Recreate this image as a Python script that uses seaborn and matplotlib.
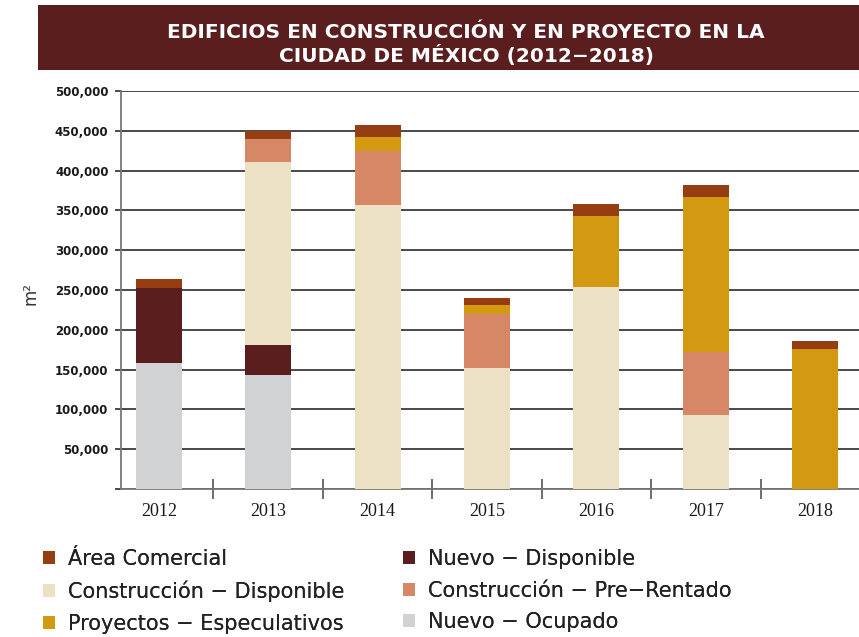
import matplotlib
matplotlib.use("Agg")
import matplotlib.pyplot as plt
import numpy as np
import pandas as pd
import seaborn as sns
from matplotlib.patches import Patch, Rectangle
from matplotlib.ticker import FuncFormatter, MultipleLocator

sns.set_theme(style="white")
plt.rcParams['font.family'] = ['DejaVu Sans']

# Data (m2)
years = ['2012', '2013', '2014', '2015', '2016', '2017', '2018']
nuevo_ocupado = [158000, 143000, 0, 0, 0, 0, 0]
nuevo_disponible = [94500, 38000, 0, 0, 0, 0, 0]
construccion_disponible = [0, 230000, 357000, 152000, 254000, 93000, 0]
construccion_prerentado = [0, 29000, 68000, 68000, 0, 79500, 0]
proyectos_especulativos = [0, 0, 17500, 11000, 89500, 195000, 176000]
area_comercial = [11000, 10000, 15000, 9000, 14500, 15000, 10000]

# stack order bottom -> top
layers = [
    ('Nuevo − Ocupado', nuevo_ocupado, '#d1d2d4'),
    ('Nuevo − Disponible', nuevo_disponible, '#5a1e1f'),
    ('Construcción − Disponible', construccion_disponible, '#ece1c4'),
    ('Construcción − Pre−Rentado', construccion_prerentado, '#d68866'),
    ('Proyectos − Especulativos', proyectos_especulativos, '#d39a11'),
    ('Área Comercial', area_comercial, '#963e12'),
]

df = pd.DataFrame({name: vals for name, vals, _ in layers}, index=years)
cum = df.cumsum(axis=1)

fig = plt.figure(figsize=(8.59, 6.37), dpi=100)
ax = fig.add_axes([0.1409, 0.2323, 0.8591, 0.6247])

# draw cumulative totals from the top layer down so each layer shows through
for name, _, color in reversed(layers):
    sns.barplot(x=cum.index, y=cum[name].values, color=color, width=0.42,
                saturation=1, linewidth=0, ax=ax, zorder=3)

ax.set_ylim(0, 500000)
ax.set_xlim(-0.345, 6.4)
ax.yaxis.set_major_locator(MultipleLocator(50000))
ax.yaxis.set_major_formatter(FuncFormatter(lambda v, p: '' if v == 0 else f'{int(v):,}'))
ax.grid(axis='y', color='#2a2a2a', linewidth=1.2, zorder=0)
ax.set_axisbelow(True)

for s in ['top', 'right']:
    ax.spines[s].set_visible(False)
ax.spines['left'].set_color('#777777')
ax.spines['bottom'].set_color('#777777')
ax.spines['left'].set_linewidth(1.3)
ax.spines['bottom'].set_linewidth(1.3)

ax.tick_params(axis='y', which='major', left=True, length=4, width=1.2, color='#2a2a2a',
               labelsize=8.5, pad=5, labelcolor='#1a1a1a')
for lbl in ax.get_yticklabels():
    lbl.set_fontweight('bold')

# year labels in a serif face, tick marks between categories
ax.tick_params(axis='x', which='major', length=0, pad=10, labelsize=13, labelcolor='#1a1a1a')
for lbl in ax.get_xticklabels():
    lbl.set_family('Liberation Serif')
ax.set_xticks(np.arange(0.5, 6, 1), minor=True)
ax.tick_params(axis='x', which='minor', bottom=True, direction='inout', length=15,
               width=1.2, color='#555555')
ax.set_xlabel('')
ax.set_ylabel('')

fig.text(0.035, 0.54, 'm²', rotation=90, ha='center', va='center', fontsize=12, color='#333333')

# title band
fig.patches.append(Rectangle((0.0442, 0.890), 1 - 0.0442, 0.102, transform=fig.transFigure,
                             facecolor='#5a1e1f', edgecolor='none', zorder=0))
fig.text(0.5425, 0.930, 'EDIFICIOS EN CONSTRUCCIÓN Y EN PROYECTO EN LA\nCIUDAD DE MÉXICO (2012−2018)',
         ha='center', va='center', color='white', fontsize=14.5, fontweight='bold',
         linespacing=1.18)

# legend, two single-column blocks
colors = {name: c for name, _, c in layers}
columns = [
    (['Área Comercial', 'Construcción − Disponible', 'Proyectos − Especulativos'], 0.050),
    (['Nuevo − Disponible', 'Construcción − Pre−Rentado', 'Nuevo − Ocupado'], 0.469),
]
for names, x0 in columns:
    handles = [Patch(facecolor=colors[n], edgecolor='none', label=n) for n in names]
    leg = fig.legend(handles=handles, loc='upper left', bbox_to_anchor=(x0, 0.138), ncol=1,
                     frameon=False, fontsize=15, handlelength=0.6, handleheight=0.6,
                     handletextpad=0.62, labelspacing=0.55, borderpad=0, borderaxespad=0,
                     labelcolor='#222222')
    fig.add_artist(leg)

fig.savefig('out.png', dpi=100)
